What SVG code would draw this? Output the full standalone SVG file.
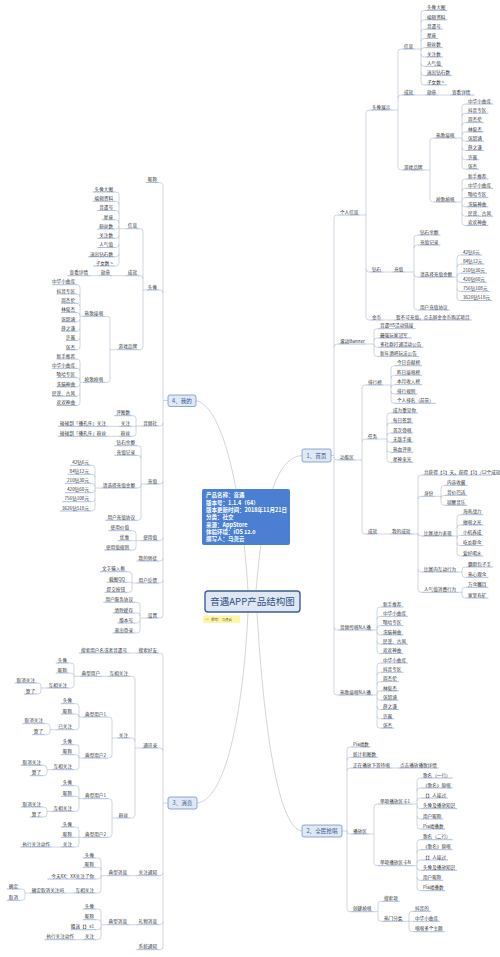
<svg xmlns="http://www.w3.org/2000/svg" width="500" height="957" viewBox="0 0 500 957">
<style>
.t{font-family:"Noto Sans CJK SC","Noto Sans",sans-serif;font-size:4.6px;fill:#333}
.e{text-anchor:end}
.u{stroke:#6f8fd0;stroke-width:0.6;fill:none}
.c{stroke:#aab3c3;stroke-width:0.55;fill:none}
.m{fill:#dfe8f5;stroke:#7393c4;stroke-width:0.8}
.mt{font-family:"Noto Sans CJK SC","Noto Sans",sans-serif;font-size:5.6px;fill:#3a5a8c;text-anchor:middle}
.it{font-family:"Noto Sans CJK SC","Noto Sans",sans-serif;font-size:5.5px;fill:#fff;font-weight:bold}
</style>
<rect width="500" height="957" fill="#fff"/>
<g id="connectors" class="c">
<path d="M256,591 C262,520 272,458 302,455.5 M248,591 C244,520 228,408 196,400.5 M248,612 C244,700 228,800 197,803 M257,612 C262,700 275,828 302,831"/>
<path d="M331,455.5H334 M334,218V692 M334,218q0,-3 3,-3h1 M334,347q0,-3 3,-3h1 M334,457q0,3 3,3h1 M334,627q0,3 3,3h1 M334,692q0,3 3,3h1"/>
<path d="M360.4,215H366 M366,113V317 M366,113q0,-3 3,-3h1 M366,269q0,3 3,3h1 M366,317q0,3 3,3h1"/>
<path d="M392.4,110H398 M398,52V167 M398,52q0,-3 3,-3h1 M398,98q0,-3 3,-3h1 M398,167q0,3 3,3h1"/>
<path d="M415.2,49H421 M421,13.5V81.9 M421,13.5q0,-3 3,-3h1 M421,22.8q0,-3 3,-3h1 M421,32.1q0,-3 3,-3h1 M421,41.4q0,-3 3,-3h1 M421,50.7q0,-3 3,-3h1 M421,54q0,3 3,3h1 M421,63.3q0,3 3,3h1 M421,72.6q0,3 3,3h1 M421,81.9q0,3 3,3h1"/>
<path d="M415.2,95H425 M438.2,95H450"/>
<path d="M424.4,170H430 M430,141V199 M430,141q0,-3 3,-3h1 M430,199q0,3 3,3h1"/>
<path d="M456.4,138H462 M462,107V166.1 M462,107q0,-3 3,-3h1 M462,116.3q0,-3 3,-3h1 M462,125.6q0,-3 3,-3h1 M462,134.9q0,-3 3,-3h1 M462,138.2q0,3 3,3h1 M462,147.5q0,3 3,3h1 M462,156.8q0,3 3,3h1 M462,166.1q0,3 3,3h1"/>
<path d="M456.4,202H462 M462,182V222.5 M462,182q0,-3 3,-3h1 M462,191.3q0,-3 3,-3h1 M462,200.6q0,-3 3,-3h1 M462,203.9q0,3 3,3h1 M462,213.2q0,3 3,3h1 M462,222.5q0,3 3,3h1"/>
<path d="M383.2,272H392 M383.2,320H394"/>
<path d="M405.2,272H414 M414,238V307 M414,238q0,-3 3,-3h1 M414,248q0,-3 3,-3h1 M414,274q0,3 3,3h1 M414,307q0,3 3,3h1"/>
<path d="M454.2,277H457 M457,258V297.5 M457,258q0,-3 3,-3h1 M457,267.1q0,-3 3,-3h1 M457,276.2q0,-3 3,-3h1 M457,279.3q0,3 3,3h1 M457,288.4q0,3 3,3h1 M457,297.5q0,3 3,3h1"/>
<path d="M366.3,344H374 M374,331.7V353.4 M374,331.7q0,-3 3,-3h1 M374,341q0,-3 3,-3h1 M374,344.2q0,3 3,3h1 M374,353.4q0,3 3,3h1"/>
<path d="M355.8,460H362 M362,388V531 M362,388q0,-3 3,-3h1 M362,442q0,-3 3,-3h1 M362,531q0,3 3,3h1"/>
<path d="M383.8,385H391 M391,368.7V400.3 M391,368.7q0,-3 3,-3h1 M391,378.2q0,-3 3,-3h1 M391,387.7q0,-3 3,-3h1 M391,391q0,3 3,3h1 M391,400.3q0,3 3,3h1"/>
<path d="M377.2,439H387 M387,416V459.3 M387,416q0,-3 3,-3h1 M387,426q0,-3 3,-3h1 M387,436q0,-3 3,-3h1 M387,439.3q0,3 3,3h1 M387,449.3q0,3 3,3h1 M387,459.3q0,3 3,3h1"/>
<path d="M377.2,534H390 M412.4,534H418 M418,478V589.3 M418,478q0,-3 3,-3h1 M418,499.3q0,-3 3,-3h1 M418,533q0,3 3,3h1 M418,569q0,3 3,3h1 M418,589.3q0,3 3,3h1"/>
<path d="M435.2,496.3H441 M441,488.3V502.3 M441,488.3q0,-3 3,-3h1 M441,498.3q0,-3 3,-3h1 M441,502.3q0,3 3,3h1"/>
<path d="M453.6,536H457 M457,517.7V553 M457,517.7q0,-3 3,-3h1 M457,528q0,-3 3,-3h1 M457,538.3q0,-3 3,-3h1 M457,542.6q0,3 3,3h1 M457,553q0,3 3,3h1"/>
<path d="M458.2,572H462 M462,570V574.3 M462,570q0,-3 3,-3h1 M462,574.3q0,3 3,3h1 M458.2,592.3H462 M462,590.3V595 M462,590.3q0,-3 3,-3h1 M462,595q0,3 3,3h1"/>
<path d="M373,630H377 M377,610V650.5 M377,610q0,-3 3,-3h1 M377,619.3q0,-3 3,-3h1 M377,628.6q0,-3 3,-3h1 M377,631.9q0,3 3,3h1 M377,641.2q0,3 3,3h1 M377,650.5q0,3 3,3h1"/>
<path d="M373,695H377 M377,666V725.1 M377,666q0,-3 3,-3h1 M377,675.3q0,-3 3,-3h1 M377,684.6q0,-3 3,-3h1 M377,693.9q0,-3 3,-3h1 M377,697.2q0,3 3,3h1 M377,706.5q0,3 3,3h1 M377,715.8q0,3 3,3h1 M377,725.1q0,3 3,3h1"/>
<path d="M342,831H347 M347,750V908.7 M347,750q0,-3 3,-3h1 M347,760.3q0,-3 3,-3h1 M347,771q0,-3 3,-3h1 M347,831q0,3 3,3h1 M347,908.7q0,3 3,3h1 M391.8,768H398"/>
<path d="M368.8,834H374 M374,807V862.7 M374,807q0,-3 3,-3h1 M374,862.7q0,3 3,3h1"/>
<path d="M412.2,804H417 M417,781V826 M417,781q0,-3 3,-3h1 M417,791q0,-3 3,-3h1 M417,801q0,-3 3,-3h1 M417,805.7q0,3 3,3h1 M417,816q0,3 3,3h1 M417,826q0,3 3,3h1"/>
<path d="M413,865.7H417 M417,842.7V887.7 M417,842.7q0,-3 3,-3h1 M417,852.7q0,-3 3,-3h1 M417,863q0,-3 3,-3h1 M417,867.3q0,3 3,3h1 M417,877.3q0,3 3,3h1 M417,887.7q0,3 3,3h1"/>
<path d="M373.4,911.7H378 M378,904.3V918.3 M378,904.3q0,-3 3,-3h1 M378,918.3q0,3 3,3h1 M404.4,921.3H409 M409,914.3V928.7 M409,914.3q0,-3 3,-3h1 M409,921.3H413 M409,928.7q0,3 3,3h1"/>
<path d="M168,400.5H163 M163,185.5V615 M163,185.5q0,-3 -3,-3h-1 M163,293q0,-3 -3,-3h-1 M163,423q0,3 -3,3h-1 M163,481q0,3 -3,3h-1 M163,537.7q0,3 -3,3h-1 M163,558q0,3 -3,3h-1 M163,580q0,3 -3,3h-1 M163,615q0,3 -3,3h-1"/>
<path d="M145.8,290H143 M143,231.7V346.7 M143,231.7q0,-3 -3,-3h-1 M143,278.7q0,-3 -3,-3h-1 M143,346.7q0,3 -3,3h-1"/>
<path d="M125.8,228.7H119 M119,195V263 M119,195q0,-3 -3,-3h-1 M119,204.3q0,-3 -3,-3h-1 M119,213.5q0,-3 -3,-3h-1 M119,222.8q0,-3 -3,-3h-1 M119,226q0,3 -3,3h-1 M119,235.3q0,3 -3,3h-1 M119,244.5q0,3 -3,3h-1 M119,253.8q0,3 -3,3h-1 M119,263q0,3 -3,3h-1"/>
<path d="M125.8,275.7H112 M98.8,275.7H90"/>
<path d="M116.6,349.7H110 M110,319.3V379.3 M110,319.3q0,-3 -3,-3h-2 M110,379.3q0,3 -3,3h-2"/>
<path d="M82.6,316.3H80 M80,287.7V346.8 M80,287.7q0,-3 -3,-3 M80,297q0,-3 -3,-3 M80,306.3q0,-3 -3,-3 M80,315.6q0,-3 -3,-3 M80,318.9q0,3 -3,3 M80,328.2q0,3 -3,3 M80,337.5q0,3 -3,3 M80,346.8q0,3 -3,3"/>
<path d="M82.6,382.3H80 M80,362V402.5 M80,362q0,-3 -3,-3 M80,371.3q0,-3 -3,-3 M80,380.6q0,-3 -3,-3 M80,383.9q0,3 -3,3 M80,393.2q0,3 -3,3 M80,402.5q0,3 -3,3"/>
<path d="M141.2,426H136 M136,418.7V433.3 M136,418.7q0,-3 -3,-3h-1 M136,426.3H132 M136,433.3q0,3 -3,3h-1 M118.8,426.3H108 M118.8,436.3H108"/>
<path d="M145.8,484H141 M141,448.7V517.3 M141,448.7q0,-3 -3,-3h-1 M141,458.3q0,-3 -3,-3h-1 M141,485q0,3 -3,3h-1 M141,517.3q0,3 -3,3h-1"/>
<path d="M100.8,488H95 M95,468.3V508 M95,468.3q0,-3 -3,-3h-1 M95,477.3q0,-3 -3,-3h-1 M95,486.3q0,-3 -3,-3h-1 M95,489.7q0,3 -3,3h-1 M95,498.7q0,3 -3,3h-1 M95,508q0,3 -3,3h-1"/>
<path d="M141.2,540.7H136 M136,533.7V547 M136,533.7q0,-3 -3,-3h-2 M136,540.7H131 M136,547q0,3 -3,3h-2"/>
<path d="M136.6,583H132 M132,574.7V589.3 M132,574.7q0,-3 -3,-3h-2 M132,582.3H127 M132,589.3q0,3 -3,3h-2"/>
<path d="M145.8,618H140 M140,605.3V630 M140,605.3q0,-3 -3,-3h-2 M140,616q0,-3 -3,-3h-2 M140,620q0,3 -3,3h-2 M140,630q0,3 -3,3h-2"/>
<path d="M168,803H163 M163,656V946.7 M163,656q0,-3 -3,-3h-1 M163,751q0,-3 -3,-3h-1 M163,872.7q0,3 -3,3h-1 M163,921.7q0,3 -3,3h-1 M163,946.7q0,3 -3,3h-1 M136.6,653H129"/>
<path d="M141.2,748H135 M135,679.3V815 M135,679.3q0,-3 -3,-3h-2 M135,741q0,-3 -3,-3h-2 M135,815q0,3 -3,3h-2 M107.6,676.3H102"/>
<path d="M79.6,676.3H74 M74,666V685 M74,666q0,-3 -3,-3h-2 M74,676q0,-3 -3,-3h-2 M74,685q0,3 -3,3h-2 M46.6,688H41 M41,686V691 M41,686q0,-3 -3,-3h-1 M41,691q0,3 -3,3h-1"/>
<path d="M116.8,738H112 M112,720V755 M112,720q0,-3 -3,-3h-1 M112,755q0,3 -3,3h-1"/>
<path d="M83,717H79 M79,706.7V726.7 M79,706.7q0,-3 -3,-3h-2 M79,717q0,-3 -3,-3h-2 M79,726.7q0,3 -3,3h-2 M56.2,729.7H50 M50,726.7V731.7 M50,726.7q0,-3 -3,-3h-2 M50,731.7q0,3 -3,3h-2"/>
<path d="M83,758H79 M79,747.7V766.7 M79,747.7q0,-3 -3,-3h-2 M79,757.7q0,-3 -3,-3h-2 M79,766.7q0,3 -3,3h-2 M51.6,769.7H47 M47,768.3V772.7 M47,768.3q0,-3 -3,-3h-1 M47,772.7q0,3 -3,3h-1"/>
<path d="M116.8,818H112 M112,801.7V834.3 M112,801.7q0,-3 -3,-3h-1 M112,834.3q0,3 -3,3h-1"/>
<path d="M83,798.7H79 M79,788.7V808.3 M79,788.7q0,-3 -3,-3h-2 M79,799.3q0,-3 -3,-3h-2 M79,808.3q0,3 -3,3h-2 M51.6,811.3H47 M47,810V814 M47,810q0,-3 -3,-3h-1 M47,814q0,3 -3,3h-1"/>
<path d="M83,837.3H79 M79,830V844 M79,830q0,-3 -3,-3h-2 M79,837.3H74 M79,844q0,3 -3,3h-2 M60.8,847H52"/>
<path d="M136.6,875.7H129 M106.6,875.7H101 M101,861V890 M101,861q0,-3 -3,-3h-2 M101,870.3q0,-3 -3,-3h-2 M101,876q0,3 -3,3h-2 M101,890q0,3 -3,3h-2 M73.6,893H66 M29.8,893H25 M25,892V897.3 M25,892q0,-3 -3,-3h-2 M25,897.3q0,3 -3,3h-2"/>
<path d="M136.6,924.7H129 M106.6,924.7H101 M101,912V936.7 M101,912q0,-3 -3,-3h-2 M101,922.7q0,-3 -3,-3h-2 M101,926.7q0,3 -3,3h-2 M101,936.7q0,3 -3,3h-2 M82.8,939.7H76"/>
</g>

<g id="center"><rect x="205" y="591" width="95" height="21" rx="3" fill="#dfe7f3" stroke="#3d5f93" stroke-width="1.4"/><text x="252.5" y="605.2" font-family="'Noto Sans CJK SC',sans-serif" font-size="9.5" fill="#2f4f80" text-anchor="middle">音遇APP产品结构图</text></g>
<g id="note"><rect x="203" y="615.5" width="37" height="7.5" fill="#fdf6a3"/><path d="M205,619.3h4" stroke="#b8a640" stroke-width="0.5"/><text x="211" y="620.6" font-family="'Noto Sans CJK SC',sans-serif" font-size="3.5" fill="#555">撰写：马尧云</text></g>
<g id="info"><rect x="202" y="489" width="88" height="56" rx="2" fill="#4a7fd1"/>
<text class="it" x="206" y="497.3">产品名称：音遇</text>
<text class="it" x="206" y="504.6">版本号：1.1.4（64）</text>
<text class="it" x="206" y="511.9">版本更新时间：2018年11月21日</text>
<text class="it" x="206" y="519.2">分类：社交</text>
<text class="it" x="206" y="526.5">来源：AppStore</text>
<text class="it" x="206" y="533.8">体验环境：iOS 12.0</text>
<text class="it" x="206" y="541.1">撰写人：马尧云</text></g>

<g id="b1"><rect class="m" x="302" y="449" width="29" height="13" rx="2"/><text class="mt" x="316.5" y="457.7">1、首页</text></g>
<g id="b2"><rect class="m" x="302" y="825" width="40" height="12" rx="2"/><text class="mt" x="322" y="833">2、全民抢唱</text></g>
<g id="b3"><rect class="m" x="168" y="797" width="29" height="12" rx="2"/><text class="mt" x="182.5" y="805">3、消息</text></g>
<g id="b4"><rect class="m" x="168" y="395" width="28" height="11.5" rx="2"/><text class="mt" x="182" y="402.7">4、我的</text></g>

<g id="r1"><text class="t" x="340" y="213.7">个人信息</text><path class="u" d="M338,215H360.4"/></g>
<g id="r2"><text class="t" x="372" y="108.7">头像展示</text><path class="u" d="M370,110H392.4"/></g>
<g id="r3"><text class="t" x="404" y="47.7">信息</text><path class="u" d="M402,49H415.2"/></g>
<g id="r4"><text class="t" x="427" y="9.2">头像大图</text><path class="u" d="M425,10.5H447.4"/></g>
<g id="r5"><text class="t" x="427" y="18.5">编辑资料</text><path class="u" d="M425,19.8H447.4"/></g>
<g id="r6"><text class="t" x="427" y="27.8">音遇号</text><path class="u" d="M425,29.1H442.8"/></g>
<g id="r7"><text class="t" x="427" y="37.1">星座</text><path class="u" d="M425,38.4H438.2"/></g>
<g id="r8"><text class="t" x="427" y="46.4">粉丝数</text><path class="u" d="M425,47.7H442.8"/></g>
<g id="r9"><text class="t" x="427" y="55.7">关注数</text><path class="u" d="M425,57H442.8"/></g>
<g id="r10"><text class="t" x="427" y="65">人气值</text><path class="u" d="M425,66.3H442.8"/></g>
<g id="r11"><text class="t" x="427" y="74.3">送出钻石数</text><path class="u" d="M425,75.6H452"/></g>
<g id="r12"><text class="t" x="427" y="83.6">子女数 &gt;</text><path class="u" d="M425,84.9H446.8"/></g>
<g id="r13"><text class="t" x="404" y="93.7">成就</text><path class="u" d="M402,95H415.2"/></g>
<g id="r14"><text class="t" x="427" y="93.7">勋章</text><path class="u" d="M425,95H438.2"/></g>
<g id="r15"><text class="t" x="452" y="93.7">查看详情</text><path class="u" d="M450,95H474.4"/></g>
<g id="r16"><text class="t" x="404" y="168.7">游戏品牌</text><path class="u" d="M402,170H424.4"/></g>
<g id="r17"><text class="t" x="436" y="136.7">热歌接唱</text><path class="u" d="M434,138H456.4"/></g>
<g id="r18"><text class="t" x="468" y="102.7">中华小曲库</text><path class="u" d="M466,104H493"/></g>
<g id="r19"><text class="t" x="468" y="112">抖音专区</text><path class="u" d="M466,113.3H488.4"/></g>
<g id="r20"><text class="t" x="468" y="121.3">周杰伦</text><path class="u" d="M466,122.6H483.8"/></g>
<g id="r21"><text class="t" x="468" y="130.6">林俊杰</text><path class="u" d="M466,131.9H483.8"/></g>
<g id="r22"><text class="t" x="468" y="139.9">张韶涵</text><path class="u" d="M466,141.2H483.8"/></g>
<g id="r23"><text class="t" x="468" y="149.2">薛之谦</text><path class="u" d="M466,150.5H483.8"/></g>
<g id="r24"><text class="t" x="468" y="158.5">许嵩</text><path class="u" d="M466,159.8H479.2"/></g>
<g id="r25"><text class="t" x="468" y="167.8">张杰</text><path class="u" d="M466,169.1H479.2"/></g>
<g id="r26"><text class="t" x="436" y="200.7">抢歌抢唱</text><path class="u" d="M434,202H456.4"/></g>
<g id="r27"><text class="t" x="468" y="177.7">新手推荐</text><path class="u" d="M466,179H488.4"/></g>
<g id="r28"><text class="t" x="468" y="187">中华小曲库</text><path class="u" d="M466,188.3H493"/></g>
<g id="r29"><text class="t" x="468" y="196.3">嘻哈专区</text><path class="u" d="M466,197.6H488.4"/></g>
<g id="r30"><text class="t" x="468" y="205.6">洗脑神曲</text><path class="u" d="M466,206.9H488.4"/></g>
<g id="r31"><text class="t" x="468" y="214.9">民谣、古风</text><path class="u" d="M466,216.2H493"/></g>
<g id="r32"><text class="t" x="468" y="224.2">欢欢神曲</text><path class="u" d="M466,225.5H488.4"/></g>
<g id="r33"><text class="t" x="372" y="270.7">钻石</text><path class="u" d="M370,272H383.2"/></g>
<g id="r34"><text class="t" x="394" y="270.7">充值</text><path class="u" d="M392,272H405.2"/></g>
<g id="r35"><text class="t" x="420" y="233.7">钻石余额</text><path class="u" d="M418,235H440.4"/></g>
<g id="r36"><text class="t" x="420" y="243.7">充值记录</text><path class="u" d="M418,245H440.4"/></g>
<g id="r37"><text class="t" x="420" y="275.7">请选择充值金额</text><path class="u" d="M418,277H454.2"/></g>
<g id="r38"><text class="t" x="463" y="253.7">42钻6元</text><path class="u" d="M461,255H481.9"/></g>
<g id="r39"><text class="t" x="463" y="262.8">84钻12元</text><path class="u" d="M461,264.1H484.4"/></g>
<g id="r40"><text class="t" x="463" y="271.9">210钻30元</text><path class="u" d="M461,273.2H487"/></g>
<g id="r41"><text class="t" x="463" y="281">420钻60元</text><path class="u" d="M461,282.3H487"/></g>
<g id="r42"><text class="t" x="463" y="290.1">756钻108元</text><path class="u" d="M461,291.4H489.5"/></g>
<g id="r43"><text class="t" x="463" y="299.2">3626钻518元</text><path class="u" d="M461,300.5H492"/></g>
<g id="r44"><text class="t" x="420" y="308.7">用户充值协议</text><path class="u" d="M418,310H449.6"/></g>
<g id="r45"><text class="t" x="372" y="318.7">金币</text><path class="u" d="M370,320H383.2"/></g>
<g id="r46"><text class="t" x="396" y="318.7">暂不可充值，点击屏金金币购买项目</text><path class="u" d="M394,320H471.6"/></g>
<g id="r47"><text class="t" x="340" y="342.7">滚动Banner</text><path class="u" d="M338,344H366.3"/></g>
<g id="r48"><text class="t" x="380" y="327.4">音遇H5活动链接</text><path class="u" d="M378,328.7H415.5"/></g>
<g id="r49"><text class="t" x="380" y="336.7">最强玩家冠军</text><path class="u" d="M378,338H411.6"/></g>
<g id="r50"><text class="t" x="380" y="345.9">多社群打通活动公告</text><path class="u" d="M378,347.2H423.4"/></g>
<g id="r51"><text class="t" x="380" y="355.1">新年酒吧玩法公告</text><path class="u" d="M378,356.4H418.8"/></g>
<g id="r52"><text class="t" x="340" y="458.7">功能区</text><path class="u" d="M338,460H355.8"/></g>
<g id="r53"><text class="t" x="368" y="383.7">排行榜</text><path class="u" d="M366,385H383.8"/></g>
<g id="r54"><text class="t" x="397" y="364.4">今日贡献榜</text><path class="u" d="M395,365.7H422"/></g>
<g id="r55"><text class="t" x="397" y="373.9">昨日接唱榜</text><path class="u" d="M395,375.2H422"/></g>
<g id="r56"><text class="t" x="397" y="383.4">本月收入榜</text><path class="u" d="M395,384.7H422"/></g>
<g id="r57"><text class="t" x="397" y="392.7">排行规则</text><path class="u" d="M395,394H417.4"/></g>
<g id="r58"><text class="t" x="397" y="402">个人排名（前景）</text><path class="u" d="M395,403.3H435.8"/></g>
<g id="r59"><text class="t" x="368" y="437.7">任务</text><path class="u" d="M366,439H377.2"/></g>
<g id="r60"><text class="t" x="393" y="411.7">成为重见你</text><path class="u" d="M391,413H418"/></g>
<g id="r61"><text class="t" x="393" y="421.7">每日签到</text><path class="u" d="M391,423H413.4"/></g>
<g id="r62"><text class="t" x="393" y="431.7">首次登唱</text><path class="u" d="M391,433H413.4"/></g>
<g id="r63"><text class="t" x="393" y="441">无敌手速</text><path class="u" d="M391,442.3H413.4"/></g>
<g id="r64"><text class="t" x="393" y="451">热血评审</text><path class="u" d="M391,452.3H413.4"/></g>
<g id="r65"><text class="t" x="393" y="461">星神来光</text><path class="u" d="M391,462.3H413.4"/></g>
<g id="r66"><text class="t" x="368" y="532.7">成就</text><path class="u" d="M366,534H377.2"/></g>
<g id="r67"><text class="t" x="392" y="532.7">我的成就</text><path class="u" d="M390,534H412.4"/></g>
<g id="r68"><text class="t" x="424" y="473.7" font-size="4">共获得【1】天，获得【1】/12个成就</text><path class="u" d="M422,475H492"/></g>
<g id="r69"><text class="t" x="424" y="495">身份</text><path class="u" d="M422,496.3H435.2"/></g>
<g id="r70"><text class="t" x="447" y="484">内容收藏</text><path class="u" d="M445,485.3H467.4"/></g>
<g id="r71"><text class="t" x="447" y="494">音价巴适</text><path class="u" d="M445,495.3H467.4"/></g>
<g id="r72"><text class="t" x="447" y="504">宿醒音乐</text><path class="u" d="M445,505.3H467.4"/></g>
<g id="r73"><text class="t" x="424" y="534.7">比赛战力表现</text><path class="u" d="M422,536H453.6"/></g>
<g id="r74"><text class="t" x="463" y="513.4">海南战力</text><path class="u" d="M461,514.7H483.4"/></g>
<g id="r75"><text class="t" x="463" y="523.7">擅唱之光</text><path class="u" d="M461,525H483.4"/></g>
<g id="r76"><text class="t" x="463" y="534">小机养成</text><path class="u" d="M461,535.3H483.4"/></g>
<g id="r77"><text class="t" x="463" y="544.3">吃瓜群众</text><path class="u" d="M461,545.6H483.4"/></g>
<g id="r78"><text class="t" x="463" y="554.7">爱好喝水</text><path class="u" d="M461,556H483.4"/></g>
<g id="r79"><text class="t" x="424" y="570.7">比赛内互动行为</text><path class="u" d="M422,572H458.2"/></g>
<g id="r80"><text class="t" x="468" y="565.7">霸胆包子手</text><path class="u" d="M466,567H493"/></g>
<g id="r81"><text class="t" x="468" y="576">热心观众</text><path class="u" d="M466,577.3H488.4"/></g>
<g id="r82"><text class="t" x="424" y="591">人气值消费行为</text><path class="u" d="M422,592.3H458.2"/></g>
<g id="r83"><text class="t" x="468" y="586">万众瞩目</text><path class="u" d="M466,587.3H488.4"/></g>
<g id="r84"><text class="t" x="468" y="596.7">家里有矿</text><path class="u" d="M466,598H488.4"/></g>
<g id="r85"><text class="t" x="340" y="628.7">音频传唱N人播</text><path class="u" d="M338,630H373"/></g>
<g id="r86"><text class="t" x="383" y="605.7">新手推荐</text><path class="u" d="M381,607H403.4"/></g>
<g id="r87"><text class="t" x="383" y="615">中华小曲库</text><path class="u" d="M381,616.3H408"/></g>
<g id="r88"><text class="t" x="383" y="624.3">嘻哈专区</text><path class="u" d="M381,625.6H403.4"/></g>
<g id="r89"><text class="t" x="383" y="633.6">洗脑神曲</text><path class="u" d="M381,634.9H403.4"/></g>
<g id="r90"><text class="t" x="383" y="642.9">民谣、古风</text><path class="u" d="M381,644.2H408"/></g>
<g id="r91"><text class="t" x="383" y="652.2">欢欢神曲</text><path class="u" d="M381,653.5H403.4"/></g>
<g id="r92"><text class="t" x="340" y="693.7">热歌接唱N人播</text><path class="u" d="M338,695H373"/></g>
<g id="r93"><text class="t" x="383" y="661.7">中华小曲库</text><path class="u" d="M381,663H408"/></g>
<g id="r94"><text class="t" x="383" y="671">抖音专区</text><path class="u" d="M381,672.3H403.4"/></g>
<g id="r95"><text class="t" x="383" y="680.3">周杰伦</text><path class="u" d="M381,681.6H398.8"/></g>
<g id="r96"><text class="t" x="383" y="689.6">林俊杰</text><path class="u" d="M381,690.9H398.8"/></g>
<g id="r97"><text class="t" x="383" y="698.9">张韶涵</text><path class="u" d="M381,700.2H398.8"/></g>
<g id="r98"><text class="t" x="383" y="708.2">薛之谦</text><path class="u" d="M381,709.5H398.8"/></g>
<g id="r99"><text class="t" x="383" y="717.5">许嵩</text><path class="u" d="M381,718.8H394.2"/></g>
<g id="r100"><text class="t" x="383" y="726.8">张杰</text><path class="u" d="M381,728.1H394.2"/></g>
<g id="q1"><text class="t" x="353" y="745.7">Pia戏数</text><path class="u" d="M351,747H370.6"/></g>
<g id="q2"><text class="t" x="353" y="756">统计和图数</text><path class="u" d="M351,757.3H378"/></g>
<g id="q3"><text class="t" x="353" y="766.7">正在播放下首待唱</text><path class="u" d="M351,768H391.8"/></g>
<g id="q4"><text class="t" x="400" y="766.7">点击播放播歌详情</text><path class="u" d="M398,768H438.8"/></g>
<g id="q5"><text class="t" x="353" y="832.7">播放区</text><path class="u" d="M351,834H368.8"/></g>
<g id="q6"><text class="t" x="380" y="802.7">单项播放区卡1</text><path class="u" d="M378,804H412.2"/></g>
<g id="q7"><text class="t" x="423" y="776.7">歌名（一行）</text><path class="u" d="M421,778H452.6"/></g>
<g id="q8"><text class="t" x="423" y="786.7">《歌名》原唱</text><path class="u" d="M421,788H452.6"/></g>
<g id="q9"><text class="t" x="423" y="796.7">【】人接过</text><path class="u" d="M421,798H448"/></g>
<g id="q10"><text class="t" x="423" y="807.4">头像及播放知识</text><path class="u" d="M421,808.7H457.2"/></g>
<g id="q11"><text class="t" x="423" y="817.7">用户昵称</text><path class="u" d="M421,819H443.4"/></g>
<g id="q12"><text class="t" x="423" y="827.7">Pia戏播数</text><path class="u" d="M421,829H445.2"/></g>
<g id="q13"><text class="t" x="380" y="864.4">单项播放区卡N</text><path class="u" d="M378,865.7H413"/></g>
<g id="q14"><text class="t" x="423" y="838.4">歌名（二行）</text><path class="u" d="M421,839.7H452.6"/></g>
<g id="q15"><text class="t" x="423" y="848.4">《歌名》原唱</text><path class="u" d="M421,849.7H452.6"/></g>
<g id="q16"><text class="t" x="423" y="858.7">【】人接过</text><path class="u" d="M421,860H448"/></g>
<g id="q17"><text class="t" x="423" y="869">头像及播放知识</text><path class="u" d="M421,870.3H457.2"/></g>
<g id="q18"><text class="t" x="423" y="879">用户昵称</text><path class="u" d="M421,880.3H443.4"/></g>
<g id="q19"><text class="t" x="423" y="889.4">Pia戏播数</text><path class="u" d="M421,890.7H445.2"/></g>
<g id="q20"><text class="t" x="353" y="910.4">创建抢唱</text><path class="u" d="M351,911.7H373.4"/></g>
<g id="q21"><text class="t" x="384" y="900">搜索项</text><path class="u" d="M382,901.3H399.8"/></g>
<g id="q22"><text class="t" x="384" y="920">热门分类</text><path class="u" d="M382,921.3H404.4"/></g>
<g id="q23"><text class="t" x="415" y="910">抖音的</text><path class="u" d="M413,911.3H430.8"/></g>
<g id="q24"><text class="t" x="415" y="920">中华小曲库</text><path class="u" d="M413,921.3H440"/></g>
<g id="q25"><text class="t" x="415" y="930.4">唱唱多个主题</text><path class="u" d="M413,931.7H444.6"/></g>

<g id="l1"><text class="t e" x="157" y="181.2">昵称</text><path class="u" d="M145.8,182.5H159"/></g>
<g id="l2"><text class="t e" x="157" y="288.7">头像</text><path class="u" d="M145.8,290H159"/></g>
<g id="l3"><text class="t e" x="137" y="227.4">信息</text><path class="u" d="M125.8,228.7H139"/></g>
<g id="l4"><text class="t e" x="113" y="190.7">头像大图</text><path class="u" d="M92.6,192H115"/></g>
<g id="l5"><text class="t e" x="113" y="200">编辑资料</text><path class="u" d="M92.6,201.3H115"/></g>
<g id="l6"><text class="t e" x="113" y="209.2">音遇号</text><path class="u" d="M97.2,210.5H115"/></g>
<g id="l7"><text class="t e" x="113" y="218.5">星座</text><path class="u" d="M101.8,219.8H115"/></g>
<g id="l8"><text class="t e" x="113" y="227.7">粉丝数</text><path class="u" d="M97.2,229H115"/></g>
<g id="l9"><text class="t e" x="113" y="237">关注数</text><path class="u" d="M97.2,238.3H115"/></g>
<g id="l10"><text class="t e" x="113" y="246.2">人气值</text><path class="u" d="M97.2,247.5H115"/></g>
<g id="l11"><text class="t e" x="113" y="255.5">送出钻石数</text><path class="u" d="M88,256.8H115"/></g>
<g id="l12"><text class="t e" x="113" y="264.7">子女数 &gt;</text><path class="u" d="M93.2,266H115"/></g>
<g id="l13"><text class="t e" x="137" y="274.4">成就</text><path class="u" d="M125.8,275.7H139"/></g>
<g id="l14"><text class="t e" x="110" y="274.4">勋章</text><path class="u" d="M98.8,275.7H112"/></g>
<g id="l15"><text class="t e" x="88" y="274.4">查看详情</text><path class="u" d="M67.6,275.7H90"/></g>
<g id="l16"><text class="t e" x="137" y="348.4">游戏品牌</text><path class="u" d="M116.6,349.7H139"/></g>
<g id="l17"><text class="t e" x="103" y="315">热歌接唱</text><path class="u" d="M82.6,316.3H105"/></g>
<g id="l18"><text class="t e" x="75" y="283.4">中华小曲库</text><path class="u" d="M52,284.7H77"/></g>
<g id="l19"><text class="t e" x="75" y="292.7">抖音专区</text><path class="u" d="M56.6,294H77"/></g>
<g id="l20"><text class="t e" x="75" y="302">周杰伦</text><path class="u" d="M61.2,303.3H77"/></g>
<g id="l21"><text class="t e" x="75" y="311.3">林俊杰</text><path class="u" d="M61.2,312.6H77"/></g>
<g id="l22"><text class="t e" x="75" y="320.6">张韶涵</text><path class="u" d="M61.2,321.9H77"/></g>
<g id="l23"><text class="t e" x="75" y="329.9">薛之谦</text><path class="u" d="M61.2,331.2H77"/></g>
<g id="l24"><text class="t e" x="75" y="339.2">许嵩</text><path class="u" d="M65.8,340.5H77"/></g>
<g id="l25"><text class="t e" x="75" y="348.5">张杰</text><path class="u" d="M65.8,349.8H77"/></g>
<g id="l26"><text class="t e" x="103" y="381">抢歌抢唱</text><path class="u" d="M82.6,382.3H105"/></g>
<g id="l27"><text class="t e" x="75" y="357.7">新手推荐</text><path class="u" d="M56.6,359H77"/></g>
<g id="l28"><text class="t e" x="75" y="367">中华小曲库</text><path class="u" d="M52,368.3H77"/></g>
<g id="l29"><text class="t e" x="75" y="376.3">嘻哈专区</text><path class="u" d="M56.6,377.6H77"/></g>
<g id="l30"><text class="t e" x="75" y="385.6">洗脑神曲</text><path class="u" d="M56.6,386.9H77"/></g>
<g id="l31"><text class="t e" x="75" y="394.9">民谣、古风</text><path class="u" d="M52,396.2H77"/></g>
<g id="l32"><text class="t e" x="75" y="404.2">欢欢神曲</text><path class="u" d="M56.6,405.5H77"/></g>
<g id="l33"><text class="t e" x="157" y="424.7">音频社</text><path class="u" d="M141.2,426H159"/></g>
<g id="l34"><text class="t e" x="130" y="414.4">评图数</text><path class="u" d="M114.2,415.7H132"/></g>
<g id="l35"><text class="t e" x="130" y="425">关注</text><path class="u" d="M118.8,426.3H132"/></g>
<g id="l36"><text class="t e" x="130" y="435">粉丝</text><path class="u" d="M118.8,436.3H132"/></g>
<g id="l37"><text class="t e" x="106" y="425">碰碰到「播孔序」关注</text><path class="u" d="M58,426.3H108"/></g>
<g id="l38"><text class="t e" x="106" y="435">碰碰到「播孔序」粉丝</text><path class="u" d="M58,436.3H108"/></g>
<g id="l39"><text class="t e" x="157" y="482.7">充值</text><path class="u" d="M145.8,484H159"/></g>
<g id="l40"><text class="t e" x="135" y="444.4">钻石余额</text><path class="u" d="M114.6,445.7H137"/></g>
<g id="l41"><text class="t e" x="135" y="454">充值记录</text><path class="u" d="M114.6,455.3H137"/></g>
<g id="l42"><text class="t e" x="135" y="486.7">请选择充值金额</text><path class="u" d="M100.8,488H137"/></g>
<g id="l43"><text class="t e" x="135" y="519">用户充值协议</text><path class="u" d="M105.4,520.3H137"/></g>
<g id="l44"><text class="t e" x="89" y="464">42钻6元</text><path class="u" d="M70.1,465.3H91"/></g>
<g id="l45"><text class="t e" x="89" y="473">84钻12元</text><path class="u" d="M67.6,474.3H91"/></g>
<g id="l46"><text class="t e" x="89" y="482">210钻30元</text><path class="u" d="M65,483.3H91"/></g>
<g id="l47"><text class="t e" x="89" y="491.4">420钻60元</text><path class="u" d="M65,492.7H91"/></g>
<g id="l48"><text class="t e" x="89" y="500.4">756钻108元</text><path class="u" d="M62.5,501.7H91"/></g>
<g id="l49"><text class="t e" x="89" y="509.7">3626钻518元</text><path class="u" d="M60,511H91"/></g>
<g id="l50"><text class="t e" x="157" y="539.4">使用值</text><path class="u" d="M141.2,540.7H159"/></g>
<g id="l51"><text class="t e" x="129" y="529.4">使用价值</text><path class="u" d="M108.6,530.7H131"/></g>
<g id="l52"><text class="t e" x="129" y="539.4">优惠</text><path class="u" d="M117.8,540.7H131"/></g>
<g id="l53"><text class="t e" x="129" y="548.7">使用值规则</text><path class="u" d="M104,550H131"/></g>
<g id="l54"><text class="t e" x="157" y="559.7">我的师徒</text><path class="u" d="M136.6,561H159"/></g>
<g id="l55"><text class="t e" x="157" y="581.7">用户反馈</text><path class="u" d="M136.6,583H159"/></g>
<g id="l56"><text class="t e" x="125" y="570.4">文字输入框</text><path class="u" d="M100,571.7H127"/></g>
<g id="l57"><text class="t e" x="125" y="581">截图QQ</text><path class="u" d="M106.6,582.3H127"/></g>
<g id="l58"><text class="t e" x="125" y="591">提交按钮</text><path class="u" d="M104.6,592.3H127"/></g>
<g id="l59"><text class="t e" x="157" y="616.7">设置</text><path class="u" d="M145.8,618H159"/></g>
<g id="l60"><text class="t e" x="133" y="601">用户服务协议</text><path class="u" d="M103.4,602.3H135"/></g>
<g id="l61"><text class="t e" x="133" y="611.7">清除缓存</text><path class="u" d="M112.6,613H135"/></g>
<g id="l62"><text class="t e" x="133" y="621.7">版本号</text><path class="u" d="M117.2,623H135"/></g>
<g id="l63"><text class="t e" x="133" y="631.7">退出登录</text><path class="u" d="M112.6,633H135"/></g>
<g id="m1"><text class="t e" x="157" y="651.7">搜索好友</text><path class="u" d="M136.6,653H159"/></g>
<g id="m2"><text class="t e" x="127" y="651.7">搜索用户名或者音遇号</text><path class="u" d="M79,653H129"/></g>
<g id="m3"><text class="t e" x="157" y="746.7">通讯录</text><path class="u" d="M141.2,748H159"/></g>
<g id="m4"><text class="t e" x="128" y="675">互相关注</text><path class="u" d="M107.6,676.3H130"/></g>
<g id="m5"><text class="t e" x="100" y="675">典型用户</text><path class="u" d="M79.6,676.3H102"/></g>
<g id="m6"><text class="t e" x="67" y="661.7">头像</text><path class="u" d="M55.8,663H69"/></g>
<g id="m7"><text class="t e" x="67" y="671.7">昵称</text><path class="u" d="M55.8,673H69"/></g>
<g id="m8"><text class="t e" x="67" y="686.7">互相关注</text><path class="u" d="M46.6,688H69"/></g>
<g id="m9"><text class="t e" x="35" y="681.7">取消关注</text><path class="u" d="M14.6,683H37"/></g>
<g id="m10"><text class="t e" x="35" y="692.7">算了</text><path class="u" d="M23.8,694H37"/></g>
<g id="m11"><text class="t e" x="128" y="736.7">关注</text><path class="u" d="M116.8,738H130"/></g>
<g id="m12"><text class="t e" x="106" y="715.7">典型用户1</text><path class="u" d="M83,717H108"/></g>
<g id="m13"><text class="t e" x="72" y="702.4">头像</text><path class="u" d="M60.8,703.7H74"/></g>
<g id="m14"><text class="t e" x="72" y="712.7">昵称</text><path class="u" d="M60.8,714H74"/></g>
<g id="m15"><text class="t e" x="72" y="728.4">已关注</text><path class="u" d="M56.2,729.7H74"/></g>
<g id="m16"><text class="t e" x="43" y="722.4">取消关注</text><path class="u" d="M22.6,723.7H45"/></g>
<g id="m17"><text class="t e" x="43" y="733.4">算了</text><path class="u" d="M31.8,734.7H45"/></g>
<g id="m18"><text class="t e" x="106" y="756.7">典型用户2</text><path class="u" d="M83,758H108"/></g>
<g id="m19"><text class="t e" x="72" y="743.4">头像</text><path class="u" d="M60.8,744.7H74"/></g>
<g id="m20"><text class="t e" x="72" y="753.4">昵称</text><path class="u" d="M60.8,754.7H74"/></g>
<g id="m21"><text class="t e" x="72" y="768.4">互相关注</text><path class="u" d="M51.6,769.7H74"/></g>
<g id="m22"><text class="t e" x="41" y="764">取消关注</text><path class="u" d="M20.6,765.3H43"/></g>
<g id="m23"><text class="t e" x="41" y="774.4">算了</text><path class="u" d="M29.8,775.7H43"/></g>
<g id="m24"><text class="t e" x="128" y="816.7">粉丝</text><path class="u" d="M116.8,818H130"/></g>
<g id="m25"><text class="t e" x="106" y="797.4">典型用户1</text><path class="u" d="M83,798.7H108"/></g>
<g id="m26"><text class="t e" x="72" y="784.4">头像</text><path class="u" d="M60.8,785.7H74"/></g>
<g id="m27"><text class="t e" x="72" y="795">昵称</text><path class="u" d="M60.8,796.3H74"/></g>
<g id="m28"><text class="t e" x="72" y="810">互相关注</text><path class="u" d="M51.6,811.3H74"/></g>
<g id="m29"><text class="t e" x="41" y="805.7">取消关注</text><path class="u" d="M20.6,807H43"/></g>
<g id="m30"><text class="t e" x="41" y="815.7">算了</text><path class="u" d="M29.8,817H43"/></g>
<g id="m31"><text class="t e" x="106" y="836">典型用户2</text><path class="u" d="M83,837.3H108"/></g>
<g id="m32"><text class="t e" x="72" y="825.7">头像</text><path class="u" d="M60.8,827H74"/></g>
<g id="m33"><text class="t e" x="72" y="836">昵称</text><path class="u" d="M60.8,837.3H74"/></g>
<g id="m34"><text class="t e" x="72" y="845.7">关注</text><path class="u" d="M60.8,847H74"/></g>
<g id="m35"><text class="t e" x="50" y="845.7">执行关注动作</text><path class="u" d="M20.4,847H52"/></g>
<g id="m36"><text class="t e" x="157" y="874.4">关注通知</text><path class="u" d="M136.6,875.7H159"/></g>
<g id="m37"><text class="t e" x="127" y="874.4">典型消息</text><path class="u" d="M106.6,875.7H129"/></g>
<g id="m38"><text class="t e" x="94" y="856.7">头像</text><path class="u" d="M82.8,858H96"/></g>
<g id="m39"><text class="t e" x="94" y="866">昵称</text><path class="u" d="M82.8,867.3H96"/></g>
<g id="m40"><text class="t e" x="94" y="877.7">今天XX：XX关注了你</text><path class="u" d="M47.4,879H96"/></g>
<g id="m41"><text class="t e" x="94" y="891.7">互相关注</text><path class="u" d="M73.6,893H96"/></g>
<g id="m42"><text class="t e" x="64" y="891.7">确定取消关注吗</text><path class="u" d="M29.8,893H66"/></g>
<g id="m43"><text class="t e" x="18" y="887.7">确定</text><path class="u" d="M6.8,889H20"/></g>
<g id="m44"><text class="t e" x="18" y="899">取消</text><path class="u" d="M6.8,900.3H20"/></g>
<g id="m45"><text class="t e" x="157" y="923.4">礼物消息</text><path class="u" d="M136.6,924.7H159"/></g>
<g id="m46"><text class="t e" x="127" y="923.4">典型消息</text><path class="u" d="M106.6,924.7H129"/></g>
<g id="m47"><text class="t e" x="94" y="907.7">头像</text><path class="u" d="M82.8,909H96"/></g>
<g id="m48"><text class="t e" x="94" y="918.4">昵称</text><path class="u" d="M82.8,919.7H96"/></g>
<g id="m49"><text class="t e" x="94" y="928.4">赠送【】x1</text><path class="u" d="M70.7,929.7H96"/></g>
<g id="m50"><text class="t e" x="94" y="938.4">关注</text><path class="u" d="M82.8,939.7H96"/></g>
<g id="m51"><text class="t e" x="74" y="938.4">执行关注动作</text><path class="u" d="M44.4,939.7H76"/></g>
<g id="m52"><text class="t e" x="157" y="948.4">系统通知</text><path class="u" d="M136.6,949.7H159"/></g>
</svg>
